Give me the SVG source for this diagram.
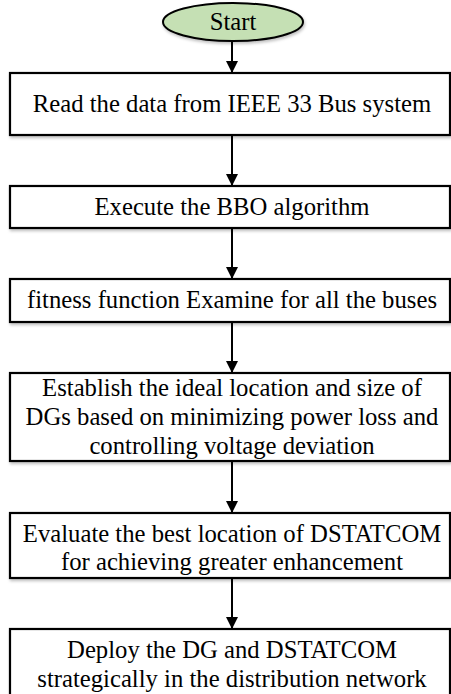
<svg xmlns="http://www.w3.org/2000/svg" width="451" height="694" viewBox="0 0 451 694">
<style>
.box{fill:#fff;stroke:#000;stroke-width:2.2}
.term{fill:#c5e0b4;stroke:#000;stroke-width:2}
.t{font-family:"Liberation Serif","Times New Roman",serif;font-size:24.7px;fill:#000;text-anchor:middle}
.c{stroke:#000;stroke-width:2;fill:none}
</style>
<defs>
<marker id="ah" markerWidth="12" markerHeight="12" refX="11" refY="6" orient="auto" markerUnits="userSpaceOnUse">
<path d="M0,0 L12,6 L0,12 Z" fill="#000"/>
</marker>
<filter id="sh" x="-5%" y="-5%" width="110%" height="120%">
<feDropShadow dx="1" dy="2" stdDeviation="1.5" flood-color="#000" flood-opacity="0.25"/>
</filter>
</defs>
<g id="connectors">
<line class="c" x1="232" y1="41" x2="232" y2="72" marker-end="url(#ah)"/>
<line class="c" x1="232" y1="135" x2="232" y2="185" marker-end="url(#ah)"/>
<line class="c" x1="232" y1="228" x2="232" y2="278" marker-end="url(#ah)"/>
<line class="c" x1="232" y1="322" x2="232" y2="372" marker-end="url(#ah)"/>
<line class="c" x1="232" y1="461" x2="232" y2="512" marker-end="url(#ah)"/>
<line class="c" x1="232" y1="578" x2="232" y2="628" marker-end="url(#ah)"/>
</g>
<g id="start">
<ellipse class="term" cx="233" cy="22" rx="70" ry="19" filter="url(#sh)"/>
<text class="t" x="233" y="30">Start</text>
</g>
<g id="read">
<rect class="box" x="10" y="73" width="440" height="62" filter="url(#sh)"/>
<text class="t" x="232" y="112">Read the data from IEEE 33 Bus system</text>
</g>
<g id="execute">
<rect class="box" x="10" y="186" width="440" height="42" filter="url(#sh)"/>
<text class="t" x="232" y="215">Execute the BBO algorithm</text>
</g>
<g id="fitness">
<rect class="box" x="10" y="279" width="440" height="43" filter="url(#sh)"/>
<text class="t" x="232" y="308">fitness function Examine for all the buses</text>
</g>
<g id="establish">
<rect class="box" x="10" y="373" width="440" height="88" filter="url(#sh)"/>
<text class="t" x="232" y="396">Establish the ideal location and size of</text>
<text class="t" x="232" y="425">DGs based on minimizing power loss and</text>
<text class="t" x="232" y="454">controlling voltage deviation</text>
</g>
<g id="evaluate">
<rect class="box" x="10" y="513" width="440" height="65" filter="url(#sh)"/>
<text class="t" x="232" y="542">Evaluate the best location of DSTATCOM</text>
<text class="t" x="232" y="570">for achieving greater enhancement</text>
</g>
<g id="deploy">
<rect class="box" x="10" y="629" width="440" height="70" filter="url(#sh)"/>
<text class="t" x="232" y="658">Deploy the DG and DSTATCOM</text>
<text class="t" x="232" y="687">strategically in the distribution network</text>
</g>
</svg>
